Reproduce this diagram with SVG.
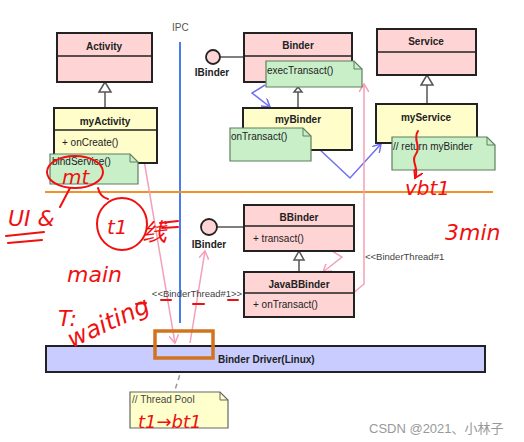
<svg xmlns="http://www.w3.org/2000/svg" width="524" height="442" viewBox="0 0 524 442">
<defs>
<style>
.cls{stroke:#222;stroke-width:2}
.pink{fill:#ffd4d4}
.yel{fill:#fffdca}
.note{fill:#c9efc9;stroke:#5f7f5f;stroke-width:1.2}
.tnote{fill:#ffffcc;stroke:#666;stroke-width:1.2}
.div{stroke:#222;stroke-width:1.5}
.t{font-family:"Liberation Sans",Arial,sans-serif;font-size:10px;fill:#222}
.b{font-weight:bold;text-anchor:middle}
.gl{stroke:#555;stroke-width:1.5;fill:none}
.blue{stroke:#7070f0;stroke-width:1.5;fill:none}
.pk{stroke:#f4a0b8;stroke-width:1.5;fill:none}
.red{font-family:"DejaVu Sans",sans-serif;font-style:italic;fill:#f01010}
.rs{stroke:#f01010;stroke-width:2;fill:none;stroke-linecap:round}
</style>
<marker id="ab" markerWidth="10" markerHeight="10" refX="8" refY="5" orient="auto" markerUnits="userSpaceOnUse"><path d="M0,0 L8,5 L0,10" fill="none" stroke="#7070f0" stroke-width="1.5"/></marker>
<marker id="ap" markerWidth="10" markerHeight="10" refX="8" refY="5" orient="auto" markerUnits="userSpaceOnUse"><path d="M0,0 L8,5 L0,10" fill="none" stroke="#f4a0b8" stroke-width="1.5"/></marker>
<marker id="ar" markerWidth="10" markerHeight="10" refX="8" refY="5" orient="auto" markerUnits="userSpaceOnUse"><path d="M0,0 L8,5 L0,10" fill="none" stroke="#f01010" stroke-width="1.8"/></marker>
</defs>
<rect width="524" height="442" fill="#fff"/>

<!-- IPC -->
<text class="t" x="172" y="31" fill="#444" style="fill:#555">IPC</text>

<!-- connectors -->
<g id="connectors">
<line x1="180" y1="42" x2="180" y2="323" stroke="#4a7cf0" stroke-width="2"/>
<line x1="45" y1="192" x2="493" y2="192" stroke="#f0922a" stroke-width="2"/>
<!-- inheritance -->
<g class="gl">
<line x1="105" y1="92" x2="105" y2="108"/><path d="M105,82 L99,92 L111,92 Z" fill="#fff"/>
<line x1="298" y1="92" x2="298" y2="108"/><path d="M298,87 L294,92 L302,92 Z" fill="#fff"/>
<line x1="427" y1="85" x2="427" y2="104"/><path d="M427,75 L421,85 L433,85 Z" fill="#fff"/>
<line x1="299" y1="260" x2="299" y2="272"/><path d="M299,251 L294,260 L304,260 Z" fill="#fff"/>
<line x1="220" y1="57" x2="244" y2="57"/>
<line x1="216" y1="227" x2="244" y2="227"/>
</g>
<polyline class="blue" points="265,85 252,93 270,107" marker-end="url(#ab)"/>
<polyline class="blue" points="318,148 350,178 381,144" marker-end="url(#ab)"/>
<polyline class="pk" points="339,305 364,284 364,84" marker-end="url(#ap)"/>
<polyline class="pk" points="332,251 342,257 323,272" marker-end="url(#ap)"/>
<line class="pk" x1="144" y1="160" x2="175" y2="343" marker-end="url(#ap)"/>
<line class="pk" x1="190" y1="343" x2="205" y2="251" marker-end="url(#ap)"/>
<line x1="185" y1="358" x2="175" y2="390" stroke="#999" stroke-width="1.5" stroke-dasharray="5,4"/>
</g>

<g id="activity">
<rect class="cls pink" x="57" y="33" width="95" height="49"/>
<line class="div" x1="57" y1="56" x2="152" y2="56"/>
<text class="t b" x="104" y="50">Activity</text>
</g>
<g id="myActivity">
<rect class="cls yel" x="54" y="108" width="103" height="55"/>
<line class="div" x1="54" y1="130" x2="157" y2="130"/>
<text class="t b" x="105" y="125">myActivity</text>
<text class="t" x="62" y="146">+ onCreate()</text>
</g>
<g id="bindServiceNote">
<path class="note" d="M50,154 L130,154 L138,162 L138,184 L50,184 Z"/>
<path d="M130,154 L130,162 L138,162" fill="none" stroke="#5f7f5f" stroke-width="1"/>
<text class="t" x="52" y="165">bindService()</text>
</g>

<g id="binder">
<rect class="cls pink" x="244" y="33" width="108" height="49"/>
<line class="div" x1="244" y1="56" x2="352" y2="56"/>
<text class="t b" x="298" y="49">Binder</text>
</g>
<g id="ibinder1">
<circle cx="213" cy="57" r="7" fill="#ffd4d4" stroke="#222" stroke-width="1.8"/>
<text class="t b" x="212" y="76">IBinder</text>
</g>
<g id="execTransactNote">
<path class="note" d="M266,61 L354,61 L362,69 L362,87 L266,87 Z"/>
<path d="M354,61 L354,69 L362,69" fill="none" stroke="#5f7f5f" stroke-width="1"/>
<text class="t" x="267" y="74">execTransact()</text>
</g>
<g id="myBinder">
<rect class="cls yel" x="243" y="108" width="109" height="42"/>
<text class="t b" x="298" y="123">myBinder</text>
</g>
<g id="onTransactNote">
<path class="note" d="M230,128 L303,128 L311,136 L311,161 L230,161 Z"/>
<path d="M303,128 L303,136 L311,136" fill="none" stroke="#5f7f5f" stroke-width="1"/>
<text class="t" x="231" y="140">onTransact()</text>
</g>

<g id="service">
<rect class="cls pink" x="377" y="29" width="99" height="46"/>
<line class="div" x1="377" y1="52" x2="476" y2="52"/>
<text class="t b" x="426" y="45">Service</text>
</g>
<g id="myService">
<rect class="cls yel" x="376" y="104" width="101" height="39"/>
<text class="t b" x="426" y="121">myService</text>
</g>
<g id="returnNote">
<path class="note" d="M392,137 L487,137 L495,145 L495,170 L392,170 Z"/>
<path d="M487,137 L487,145 L495,145" fill="none" stroke="#5f7f5f" stroke-width="1"/>
<text class="t" x="393" y="150">// return myBinder</text>
</g>

<g id="bbinder">
<rect class="cls pink" x="244" y="205" width="110" height="46"/>
<line class="div" x1="244" y1="226" x2="354" y2="226"/>
<text class="t b" x="299" y="221">BBinder</text>
<text class="t" x="253" y="242">+ transact()</text>
</g>
<g id="ibinder2">
<circle cx="209" cy="227" r="8" fill="#ffd4d4" stroke="#222" stroke-width="1.8"/>
<text class="t b" x="209" y="248">IBinder</text>
</g>
<g id="javaBBinder">
<rect class="cls pink" x="244" y="272" width="110" height="45"/>
<line class="div" x1="244" y1="293" x2="354" y2="293"/>
<text class="t b" x="299" y="288">JavaBBinder</text>
<text class="t" x="253" y="308">+ onTransact()</text>
</g>

<text class="t" x="365" y="260" style="font-size:9.5px;fill:#444">&lt;&lt;BinderThread#1</text>
<text class="t" x="197" y="297" style="font-size:9.5px;fill:#444;text-anchor:middle">&lt;&lt;BinderThread#1&gt;&gt;</text>

<g id="binderDriver">
<rect x="46" y="346" width="439" height="26" fill="#c8ccff" stroke="#222" stroke-width="2"/>
<text class="t" x="218" y="363" style="font-weight:bold">Binder Driver(Linux)</text>
</g>
<rect x="155" y="331" width="58" height="27" fill="none" stroke="#d0741e" stroke-width="3.5"/>

<g id="threadPoolNote">
<path class="tnote" d="M130,392 L220,392 L228,400 L228,428 L130,428 Z"/>
<path d="M220,392 L220,400 L228,400" fill="none" stroke="#666" stroke-width="1"/>
<text class="t" x="132" y="403" style="fill:#444">// Thread Pool</text>
</g>

<!-- handwriting -->
<g>
<ellipse class="rs" cx="75" cy="172" rx="28" ry="16"/>
<text class="red" x="62" y="184" font-size="20">mt</text>
<text class="red" x="8" y="226" font-size="22">UI &amp;</text>
<path class="rs" d="M6,236 L44,232 M8,243 L42,240"/>
<path class="rs" d="M70,188 L60,207"/>
<path class="rs" d="M98,188 C100,196 104,198 108,199"/>
<ellipse class="rs" cx="122" cy="224" rx="25" ry="26"/>
<text class="red" x="107" y="234" font-size="20">t1</text>
<text class="red" x="143" y="240" font-size="24">线</text>
<path class="rs" d="M160,223 L178,221 M162,228 L178,227"/>
<text class="red" x="67" y="282" font-size="22">main</text>
<text class="red" x="58" y="326" font-size="22">T:</text>
<text class="red" x="72" y="348" font-size="24" transform="rotate(-25 72 348)">waiting</text>
<path class="rs" d="M136,304 L146,303 M161,300 L171,300 M193,304 L204,304 M228,300 L238,300"/>
<text class="red" x="445" y="240" font-size="22">3min</text>
<path class="rs" d="M418,131 C412,140 422,146 416,154 C410,162 420,168 415,178" marker-end="url(#ar)"/>
<text class="red" x="405" y="195" font-size="20">vbt1</text>
<text class="red" x="138" y="428" font-size="18">t1→bt1</text>
</g>

<text x="369" y="433" style="font-family:'Liberation Sans','Noto Sans CJK SC',sans-serif;font-size:13px;fill:#999">CSDN @2021、小林子</text>
</svg>
